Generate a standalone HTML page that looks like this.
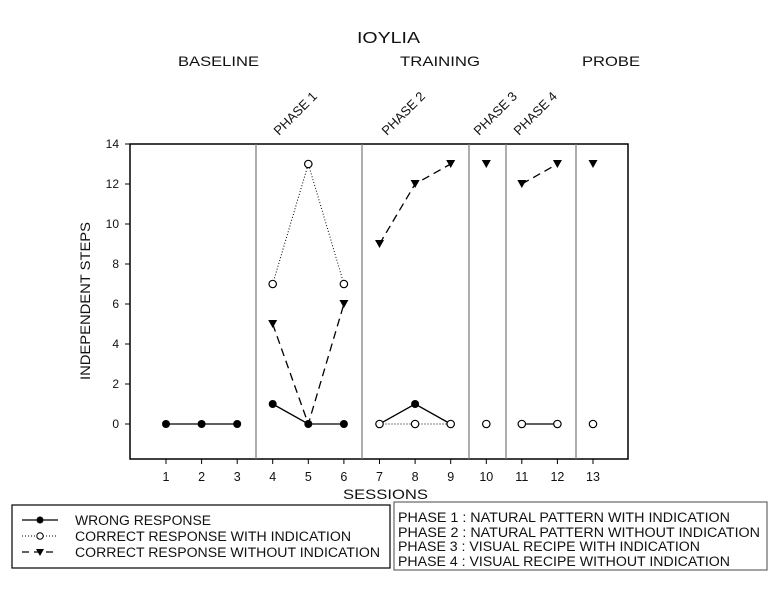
<!DOCTYPE html>
<html><head><meta charset="utf-8"><style>
body{margin:0;background:#fff}
svg text{font-family:"Liberation Sans",Arial,sans-serif;fill:#111}
</style></head><body>
<svg width="783" height="599" viewBox="0 0 783 599" xmlns="http://www.w3.org/2000/svg">
<text x="357" y="43" font-size="16" textLength="63" lengthAdjust="spacingAndGlyphs">IOYLIA</text>
<text x="178" y="66" font-size="14" textLength="81" lengthAdjust="spacingAndGlyphs">BASELINE</text>
<text x="400" y="66" font-size="14" textLength="80" lengthAdjust="spacingAndGlyphs">TRAINING</text>
<text x="582" y="66" font-size="14" textLength="58" lengthAdjust="spacingAndGlyphs">PROBE</text>
<text font-size="13" transform="translate(279,136) rotate(-45)">PHASE 1</text>
<text font-size="13" transform="translate(387,136) rotate(-45)">PHASE 2</text>
<text font-size="13" transform="translate(479,136) rotate(-45)">PHASE 3</text>
<text font-size="13" transform="translate(519,136) rotate(-45)">PHASE 4</text>
<text font-size="14" text-anchor="middle" textLength="158" lengthAdjust="spacingAndGlyphs" transform="translate(90,301) rotate(-90)">INDEPENDENT STEPS</text>
<text x="343" y="499" font-size="14" textLength="85" lengthAdjust="spacingAndGlyphs">SESSIONS</text>
<rect x="130" y="144" width="498" height="315" fill="none" stroke="#000" stroke-width="1.5"/>
<g stroke="#777" stroke-width="1.2">
<line x1="256" y1="144" x2="256" y2="459"/><line x1="362" y1="144" x2="362" y2="459"/>
<line x1="469" y1="144" x2="469" y2="459"/><line x1="506" y1="144" x2="506" y2="459"/>
<line x1="576" y1="144" x2="576" y2="459"/></g>
<g stroke="#000"><line x1="125" y1="144" x2="130" y2="144"/><line x1="125" y1="184" x2="130" y2="184"/><line x1="125" y1="224" x2="130" y2="224"/><line x1="125" y1="264" x2="130" y2="264"/><line x1="125" y1="304" x2="130" y2="304"/><line x1="125" y1="344" x2="130" y2="344"/><line x1="125" y1="384" x2="130" y2="384"/><line x1="125" y1="424" x2="130" y2="424"/></g>
<g font-size="12" text-anchor="end">
<text x="119" y="148">14</text><text x="119" y="188">12</text><text x="119" y="228">10</text><text x="119" y="268">8</text><text x="119" y="308">6</text><text x="119" y="348">4</text><text x="119" y="388">2</text><text x="119" y="428">0</text></g>
<g stroke="#000">
<line x1="166" y1="459" x2="166" y2="464"/><line x1="201.6" y1="459" x2="201.6" y2="464"/><line x1="237.2" y1="459" x2="237.2" y2="464"/><line x1="272.7" y1="459" x2="272.7" y2="464"/><line x1="308.3" y1="459" x2="308.3" y2="464"/><line x1="343.9" y1="459" x2="343.9" y2="464"/><line x1="379.5" y1="459" x2="379.5" y2="464"/><line x1="415.1" y1="459" x2="415.1" y2="464"/><line x1="450.7" y1="459" x2="450.7" y2="464"/><line x1="486.3" y1="459" x2="486.3" y2="464"/><line x1="521.8" y1="459" x2="521.8" y2="464"/><line x1="557.4" y1="459" x2="557.4" y2="464"/><line x1="593" y1="459" x2="593" y2="464"/></g>
<g font-size="12.5" text-anchor="middle">
<text x="166" y="481">1</text><text x="201.6" y="481">2</text><text x="237.2" y="481">3</text><text x="272.7" y="481">4</text><text x="308.3" y="481">5</text><text x="343.9" y="481">6</text><text x="379.5" y="481">7</text><text x="415.1" y="481">8</text><text x="450.7" y="481">9</text><text x="486.3" y="481">10</text><text x="521.8" y="481">11</text><text x="557.4" y="481">12</text><text x="593" y="481">13</text></g>
<g fill="none" stroke="#000" stroke-width="1.3">
<polyline points="166,424 237.2,424"/>
<polyline points="272.7,404 308.3,424 343.9,424"/>
<polyline points="379.5,424 415.1,404 450.7,424"/>
<polyline points="521.8,424 557.4,424"/>
<polyline stroke-dasharray="1,2" stroke-width="1" points="272.7,284 308.3,164 343.9,284"/>
<polyline stroke-dasharray="1,2" stroke-width="1" points="379.5,424 450.7,424"/>
<polyline stroke-dasharray="8,5" points="272.7,324 308.3,424 343.9,304"/>
<polyline stroke-dasharray="8,5" points="379.5,244 415.1,184 450.7,164"/>
<polyline stroke-dasharray="8,5" points="521.8,184 557.4,164"/>
</g>
<g fill="#000">
<circle cx="166" cy="424" r="4"/><circle cx="201.6" cy="424" r="4"/><circle cx="237.2" cy="424" r="4"/>
<circle cx="272.7" cy="404" r="4"/><circle cx="308.3" cy="424" r="4"/><circle cx="343.9" cy="424" r="4"/>
<circle cx="415.1" cy="404" r="4"/>
</g>
<g fill="#fff" stroke="#000" stroke-width="1.2">
<circle cx="272.7" cy="284" r="3.7"/><circle cx="308.3" cy="164" r="3.7"/><circle cx="343.9" cy="284" r="3.7"/>
<circle cx="379.5" cy="424" r="3.7"/><circle cx="415.1" cy="424" r="3.7"/><circle cx="450.7" cy="424" r="3.7"/>
<circle cx="486.3" cy="424" r="3.7"/><circle cx="521.8" cy="424" r="3.7"/><circle cx="557.4" cy="424" r="3.7"/><circle cx="593" cy="424" r="3.7"/>
</g>
<g fill="#000">
<path d="M268.2,320 h9 l-4.5,8z"/><path d="M339.4,300 h9 l-4.5,8z"/>
<path d="M375,240 h9 l-4.5,8z"/><path d="M410.6,180 h9 l-4.5,8z"/><path d="M446.2,160 h9 l-4.5,8z"/>
<path d="M481.8,160 h9 l-4.5,8z"/><path d="M517.3,180 h9 l-4.5,8z"/><path d="M552.9,160 h9 l-4.5,8z"/><path d="M588.5,160 h9 l-4.5,8z"/>
</g>
<rect x="12" y="505" width="378" height="63" fill="none" stroke="#000" stroke-width="1.2"/>
<rect x="394" y="502" width="373" height="68" fill="none" stroke="#666" stroke-width="1.2"/>
<g stroke="#000" stroke-width="1.3" fill="none">
<line x1="22" y1="520" x2="58" y2="520"/>
<line x1="22" y1="536" x2="58" y2="536" stroke-dasharray="1,2" stroke-width="1"/>
<line x1="22" y1="552" x2="58" y2="552" stroke-dasharray="7,5"/>
</g>
<circle cx="40" cy="520" r="3.5" fill="#000"/>
<circle cx="40" cy="536" r="3.2" fill="#fff" stroke="#000"/>
<path d="M36,549 h8 l-4,7z" fill="#000"/>
<g font-size="13.5" lengthAdjust="spacingAndGlyphs">
<text x="75" y="525" textLength="136" lengthAdjust="spacingAndGlyphs">WRONG RESPONSE</text>
<text x="75" y="541" textLength="276" lengthAdjust="spacingAndGlyphs">CORRECT RESPONSE WITH INDICATION</text>
<text x="75" y="557" textLength="305" lengthAdjust="spacingAndGlyphs">CORRECT RESPONSE WITHOUT INDICATION</text>
</g>
<g font-size="13.5">
<text x="398" y="522" textLength="332" lengthAdjust="spacingAndGlyphs">PHASE 1 : NATURAL PATTERN WITH INDICATION</text>
<text x="398" y="537" textLength="362" lengthAdjust="spacingAndGlyphs">PHASE 2 : NATURAL PATTERN WITHOUT INDICATION</text>
<text x="398" y="551" textLength="302" lengthAdjust="spacingAndGlyphs">PHASE 3 : VISUAL RECIPE WITH INDICATION</text>
<text x="398" y="566" textLength="332" lengthAdjust="spacingAndGlyphs">PHASE 4 : VISUAL RECIPE WITHOUT INDICATION</text>
</g>
</svg>
</body></html>
